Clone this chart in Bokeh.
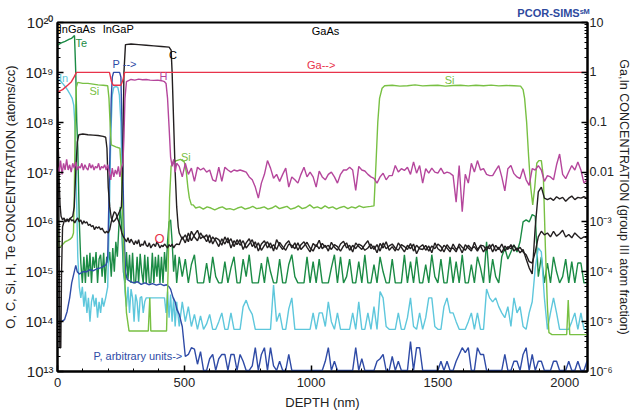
from bokeh.plotting import figure
from bokeh.models import Range1d, LogScale, LogAxis, Label, FixedTicker
from bokeh.embed import file_html
from bokeh.resources import INLINE

# ---------------- data ----------------
# common depth grid (nm) of the GaAs part of the profile
gaas_depth = list(range(480, 2089, 12))

# Te (atoms/cc)
te_front = [(0, 3.5e19), (15, 3.9e19), (30, 4.2e19), (45, 4.6e19), (55, 4.8e19), (62, 5.2e19), (67, 5.5e19),
            (72, 1e19), (76, 1e18), (80, 3e17), (86, 1e16), (92, 1.5e15), (98, 6e14),
            (104, 2e15), (110, 6e14), (116, 2.2e15), (122, 8e14), (128, 2.4e15), (134, 6e14), (140, 2e15),
            (146, 1.2e15), (152, 2.5e15), (158, 6e14), (164, 1.8e15), (170, 2.2e15), (176, 8e14), (182, 2.4e15),
            (188, 6e14), (194, 2e15), (200, 1.5e15), (206, 2.5e15), (212, 8e14), (218, 3e15), (224, 1e15),
            (230, 4e15), (236, 2e15), (242, 8e15), (248, 2e16), (254, 6e15), (260, 1e15), (266, 6e14),
            (272, 2.5e15), (278, 7e14), (284, 2.2e15), (290, 6e14), (296, 2.4e15), (302, 6e14), (308, 6e14),
            (314, 2e15), (320, 6e14), (326, 2.3e15), (332, 1e15), (338, 6e14), (344, 2.2e15), (350, 6e14),
            (356, 2e15), (362, 6e14), (368, 6e14), (374, 2.4e15), (380, 6e14), (386, 2e15), (392, 8e14),
            (398, 2.2e15), (404, 6e14), (410, 2e15), (416, 6e14), (422, 2.5e15), (428, 1e15), (434, 4e15),
            (440, 1e16), (446, 1.1e16), (452, 4e15), (458, 1e15), (464, 2.2e15), (470, 6e14)]
te_gaas_e14 = [20, 8, 18, 6, 14, 22, 6, 6, 6, 15,
               6, 20, 8, 6, 6, 16, 6, 12, 20, 6,
               6, 18, 8, 22, 6, 6, 6, 15, 6, 20,
               10, 6, 6, 18, 6, 6, 14, 22, 8, 6,
               6, 6, 20, 6, 16, 6, 18, 6, 6, 6,
               12, 22, 6, 20, 6, 8, 18, 6, 6, 16,
               6, 22, 6, 6, 14, 6, 20, 10, 6, 6,
               18, 6, 6, 6, 22, 6, 16, 6, 20, 6,
               6, 14, 6, 22, 8, 6, 18, 6, 6, 20,
               6, 16, 6, 22, 6, 6, 14, 6, 20, 12,
               6, 40, 6, 18, 8, 6, 20, 30, 18, 25,
               35, 25, 40, 100, 110, 100, 140, 130, 8, 20,
               6, 15, 6, 20, 10, 6, 8, 18, 6, 16,
               6, 15, 15, 6, 6]

# Si (atoms/cc)
si_profile = [(0, 1.6e16), (3, 6e15), (6, 3e15), (12, 3.2e15), (20, 3.5e15), (30, 4e15), (40, 4.2e15),
              (50, 4.5e15), (58, 5e15), (63, 6e15), (66, 3e16), (70, 1e18), (74, 5e18), (80, 6.3e18),
              (100, 6e18), (120, 6e18), (140, 5.8e18), (160, 5.6e18), (180, 5.5e18), (198, 5.4e18),
              (203, 3e18), (208, 8e17), (212, 3.5e17), (230, 3.2e17), (246, 3e17), (252, 1e17), (258, 1e16),
              (264, 1e15), (272, 1.5e14), (282, 6.5e13), (300, 6.5e13), (320, 6.5e13), (340, 6.5e13),
              (358, 6.5e13), (364, 3e14), (368, 6.5e13), (390, 6.5e13), (410, 6.5e13), (430, 6.5e13),
              (436, 1e15), (442, 3e16), (448, 1.3e17), (456, 1.6e17), (470, 1.7e17), (485, 1.8e17),
              (500, 1.6e17), (508, 1e17), (514, 5e16), (520, 3e16), (528, 2.2e16),
              (535, 2.2e16), (545, 1.9e16), (560, 2.0e16), (575, 1.8e16), (590, 2.0e16), (605, 1.9e16),
              (620, 1.75e16), (635, 1.9e16), (650, 2.0e16), (665, 1.8e16), (680, 1.85e16), (695, 1.75e16),
              (710, 1.9e16), (725, 2.0e16), (740, 1.8e16), (755, 1.9e16), (770, 2.05e16), (785, 1.85e16),
              (800, 1.9e16), (815, 2.0e16), (830, 1.8e16), (845, 1.9e16), (860, 2.1e16), (875, 1.85e16),
              (890, 1.95e16), (905, 2.05e16), (920, 1.8e16), (935, 1.9e16), (950, 2.1e16), (965, 1.85e16),
              (980, 1.95e16), (995, 2.2e16), (1010, 1.9e16), (1025, 2.0e16), (1040, 1.85e16), (1055, 2.1e16),
              (1070, 1.9e16), (1085, 2.0e16), (1100, 1.8e16), (1115, 1.95e16), (1130, 2.05e16),
              (1145, 1.85e16), (1160, 2.0e16), (1175, 1.9e16), (1190, 2.1e16), (1205, 1.95e16),
              (1220, 2.0e16), (1235, 2.05e16), (1248, 2.1e16), (1256, 1.5e17), (1263, 1e18), (1270, 3e18),
              (1280, 4.8e18), (1290, 5.4e18), (1320, 5.5e18), (1350, 5.3e18), (1380, 5.4e18), (1410, 5.6e18),
              (1440, 5.35e18), (1470, 5.45e18), (1500, 5.5e18), (1530, 5.3e18), (1560, 5.45e18),
              (1590, 5.5e18), (1620, 5.35e18), (1650, 5.5e18), (1680, 5.4e18), (1710, 5.55e18),
              (1740, 5.35e18), (1770, 5.45e18), (1800, 5.4e18), (1826, 5.3e18), (1836, 4.5e18),
              (1842, 3e18), (1850, 1e18), (1858, 2e17), (1866, 5e16), (1874, 2.2e16), (1882, 5e16),
              (1890, 1.5e17), (1898, 1.7e17), (1908, 1.7e17), (1916, 8e16), (1924, 3e15), (1932, 2e14),
              (1938, 6e13), (1950, 5.5e13), (1980, 5.5e13), (2008, 5.5e13), (2014, 2.7e14), (2020, 5.5e13),
              (2088, 5.5e13)]

# C (atoms/cc)
c_front = [(0, 1.5e18), (3, 5e17), (6, 1e16), (9, 3e13), (13, 3e13), (16, 1e15), (20, 8e15), (28, 1.1e16),
           (36, 1.05e16), (44, 1.1e16), (52, 1.2e16), (60, 1.3e16), (66, 2e16), (72, 1e17), (78, 4e17),
           (84, 5.6e17), (100, 5.8e17), (120, 5.6e17), (140, 5.5e17), (160, 5.4e17), (180, 5.2e17),
           (190, 5e17), (195, 3e17), (200, 5e16), (206, 2e16), (212, 1.2e16), (220, 1e16), (228, 1.1e16),
           (236, 1.3e16), (244, 1.6e16), (252, 2e16), (257, 1e17), (262, 1e19), (268, 3.6e19), (290, 3.7e19),
           (320, 3.6e19), (350, 3.5e19), (380, 3.4e19), (410, 3.3e19), (440, 3.2e19), (448, 2.8e19),
           (452, 1e19), (458, 1e18), (464, 1e17), (470, 2e16), (476, 8e15)]
c_gaas_e15 = [6, 4.5, 5.5, 4, 6.5, 5, 4.2, 6, 4.8, 5.5,
              3.8, 5, 4.2, 3.2, 4.6, 3.6, 4.8, 3, 4.2, 3.5,
              4.4, 2.8, 3.8, 4.6, 3.2, 4, 2.6, 3.6, 4.2, 3,
              3.8, 2.6, 4.4, 3.4, 2.8, 3.6, 4.2, 3, 3.8, 2.7,
              3.5, 4, 3.1, 2.5, 3.7, 3.2, 4.3, 2.9, 3.4, 2.6,
              3.9, 3.1, 2.7, 3.6, 4.1, 3, 3.4, 2.5, 3.8, 3.2,
              2.8, 3.5, 4.2, 2.9, 3.3, 2.4, 3.7, 3, 4, 2.7,
              3.2, 2.6, 3.8, 3.1, 2.5, 3.4, 2.9, 3.6, 2.3, 3.1,
              3.5, 2.7, 3.3, 2.4, 3.8, 2.9, 2.6, 3.4, 3, 2.5,
              3.6, 2.8, 3.2, 2.4, 3.5, 3, 2.6, 3.9, 2.8, 3.3,
              2.5, 3.2, 2.9, 3.6, 2.6, 3.1, 2.4, 3.3, 2.8, 3.5,
              2.6, 3, 2.4, 2.8, 1.8, 1.2, 0.9, 8, 40, 50,
              30, 28, 30, 27, 32, 29, 31, 26, 30, 33,
              28, 31, 30, 32, 30]

# O (atoms/cc)
o_front = [(0, 7e17), (3, 3e17), (6, 8e16), (10, 2.2e16), (14, 1.3e16), (20, 1.1e16), (26, 1.2e16), (32, 1e16),
           (38, 1.15e16), (44, 1e16), (50, 1.2e16), (56, 1.05e16), (62, 1.1e16), (68, 9.5e15), (74, 1.1e16),
           (80, 1.2e16), (86, 1e16), (92, 1.1e16), (98, 9e15), (104, 1.05e16), (110, 9.5e15), (116, 1e16),
           (122, 8.5e15), (128, 9e15), (134, 8e15), (140, 8.5e15), (146, 7e15), (152, 8e15), (158, 7.5e15),
           (164, 8e15), (170, 7e15), (176, 7.5e15), (182, 6.5e15), (188, 6e15), (194, 6.5e15), (200, 6e15),
           (206, 7e15), (212, 1e16), (218, 1.3e16), (224, 1.6e16), (230, 1.5e16), (236, 1.2e16), (242, 1e16),
           (248, 8e15), (254, 6e15), (260, 5e15), (266, 4.5e15), (272, 4e15), (278, 4.8e15), (284, 3.8e15),
           (290, 4.5e15), (296, 4e15), (302, 3.5e15), (308, 4.2e15), (314, 3.6e15), (320, 4.4e15),
           (326, 3.2e15), (332, 3.6e15), (338, 3.4e15), (344, 4.2e15), (350, 3.4e15), (356, 3.2e15),
           (362, 3.8e15), (368, 3e15), (374, 3.4e15), (380, 3.6e15), (386, 3.2e15), (392, 4e15),
           (398, 3.5e15), (404, 3e15), (410, 3.4e15), (416, 3.2e15), (422, 3.6e15), (428, 3.3e15),
           (434, 3e15), (440, 3.5e15), (446, 3.2e15), (452, 3.6e15), (458, 3e15), (464, 3.4e15), (470, 3.6e15)]
o_gaas_e15 = [3.5, 5, 3.8, 6, 4.2, 5.5, 6.8, 4.6, 5.2, 4,
              5.5, 3.6, 4.8, 4.4, 3.4, 5, 3.8, 4.6, 3.2, 4.4,
              3.4, 4.2, 3, 3.6, 4.4, 3, 3.8, 2.7, 3.4, 4,
              3, 3.5, 2.8, 3.9, 3.2, 2.7, 3.6, 3.4, 2.9, 3.8,
              2.8, 3.3, 3.9, 3, 2.6, 3.5, 2.9, 3.7, 3.1, 3.4,
              2.8, 3.5, 3.2, 2.6, 3.3, 3.8, 2.7, 3.4, 2.9, 3.6,
              3.3, 2.7, 3, 3.6, 2.8, 3.5, 2.6, 3.8, 2.9, 3.3,
              3.6, 3, 2.7, 3.5, 3.2, 2.8, 3.7, 2.6, 3.4, 2.9,
              2.8, 3.4, 2.6, 3.3, 2.9, 3.6, 3.2, 2.5, 3.5, 2.9,
              3, 2.5, 3.6, 3.1, 2.7, 3.4, 2.9, 3.2, 2.6, 3.4,
              3.3, 2.7, 3.5, 2.5, 3.4, 2.8, 3.6, 2.6, 3.2, 2.9,
              3.4, 2.7, 3.1, 2.5, 2.2, 1.6, 1.5, 2.5, 5, 6.5,
              5.5, 6, 5, 6.5, 5.2, 5.8, 6.8, 5, 5.6, 4.8,
              6, 5.2, 4.6, 5, 4.8]

# H (atoms/cc)
h_front = [(0, 1.3e17), (6, 1.0e17), (12, 1.7e17), (18, 9e16), (24, 1.5e17), (30, 1.1e17), (36, 1.8e17),
           (42, 1.1e17), (48, 1.4e17), (54, 1.0e17), (60, 1.5e17), (66, 1.2e17), (72, 1.6e17), (78, 1.1e17),
           (84, 1.3e17), (90, 1.2e17), (96, 1.5e17), (102, 1.1e17), (108, 1.4e17), (114, 1.2e17),
           (120, 1.1e17), (126, 1.5e17), (132, 1.2e17), (138, 1.4e17), (144, 1.1e17), (150, 1.3e17),
           (156, 1.2e17), (162, 1.5e17), (168, 1.1e17), (174, 1.3e17), (180, 1.2e17), (186, 1.4e17),
           (192, 1.1e17), (198, 1.4e17), (204, 1.0e17), (210, 7e16), (216, 1.2e17), (222, 8e16),
           (228, 1.1e17), (234, 9e16), (240, 1.3e17), (246, 8e16), (252, 1.2e17), (258, 1.5e17),
           (262, 5e17), (266, 3e18), (272, 6.5e18), (290, 7.2e18), (305, 7e18), (320, 7.3e18),
           (335, 7.1e18), (350, 7.2e18), (365, 7e18), (380, 6.9e18), (395, 7e18), (410, 6.8e18),
           (422, 6.5e18), (428, 6e18), (434, 3e18), (440, 8e17), (446, 2e17), (452, 1.3e17), (458, 1.8e17),
           (464, 1e17), (470, 1.5e17)]
h_gaas_e16 = [13, 8, 15, 9, 12, 6.5, 12.5, 11, 12, 10,
              11, 7, 6.5, 12.5, 6.5, 12.5, 11, 10, 11, 10.5,
              11, 10.5, 10, 8, 7, 5, 3, 6, 9, 17,
              12, 7.5, 9, 6.5, 9, 12, 5, 8, 7, 6,
              9, 12.5, 8, 10, 8, 5, 10.5, 8, 7, 9,
              10, 8, 6, 9, 11, 11, 12.5, 11, 4.3, 13,
              11, 10.5, 9, 8, 7.5, 6, 8, 9.5, 7, 8.5,
              8.5, 13.5, 10, 11.7, 10.8, 12.5, 9, 16, 9.5, 13.5,
              6, 11.7, 9.5, 12, 10, 9.5, 12, 9.3, 10, 9.5,
              8.5, 2.5, 13.5, 1.6, 9, 6, 15, 10, 17, 11,
              11.7, 9, 8.5, 8.5, 10.8, 13.5, 8, 4.2, 11.7, 13.5,
              9.3, 8, 7.4, 11.7, 7, 5.4, 11.7, 11, 13.5, 11,
              6.5, 8.5, 8, 7, 14, 23, 9, 7.4, 10, 13.5,
              11, 16, 11, 6, 7]

# P (arbitrary units, plotted on the atoms/cc scale)
p_front = [(0, 1e14), (15, 1e14), (28, 1.1e14), (38, 1.6e14), (48, 3e14), (56, 6e14), (64, 9e14),
           (72, 1.35e15), (78, 1e15), (86, 9e14), (100, 1e15), (114, 1e15), (128, 1.1e15), (142, 1.05e15),
           (156, 1.15e15), (170, 1.2e15), (184, 1.3e15), (192, 1.4e15), (198, 2e15), (205, 1e17),
           (212, 3e18), (216, 8e18), (221, 1e19), (245, 1e19), (250, 8e18), (254, 1e18), (258, 1e17),
           (262, 8e15), (268, 1e15), (275, 7e14), (285, 6.5e14), (300, 6e14), (315, 6.3e14), (330, 5.6e14),
           (345, 6e14), (360, 5.5e14), (375, 5.8e14), (390, 5.4e14), (405, 5.7e14), (420, 5.3e14),
           (430, 5.5e14), (440, 5e14), (446, 4.5e14), (456, 3e14), (464, 2.5e14), (470, 1.8e14)]
p_gaas_e13 = [14, 8, 2.0, 2.2, 3.0, 2.8, 1.4, 2.5, 1.05, 1.05,
              1.8, 2.2, 1.05, 1.8, 2.2, 2.2, 1.05, 2.2, 2.2, 1.05,
              2.2, 1.6, 1.05, 1.05, 1.3, 3.0, 1.05, 2.2, 3.0, 1.05,
              3.0, 1.3, 1.05, 1.6, 1.05, 1.05, 2.2, 1.05, 1.05, 1.05,
              1.05, 1.05, 1.05, 1.05, 1.05, 1.05, 1.05, 1.05, 1.6, 3.0,
              1.05, 1.6, 1.05, 1.05, 1.05, 1.05, 1.05, 1.05, 3.0, 1.05,
              1.8, 1.05, 1.05, 1.05, 1.05, 1.6, 1.8, 2.2, 1.05, 1.05,
              2.0, 1.05, 1.6, 1.05, 1.05, 1.05, 4.0, 1.05, 3.0, 3.0,
              1.05, 1.05, 1.05, 1.05, 1.05, 1.05, 1.6, 1.05, 1.6, 1.05,
              1.05, 1.6, 2.2, 3.0, 2.4, 3.0, 1.05, 1.05, 3.0, 2.2,
              2.2, 1.05, 1.05, 1.05, 1.05, 1.05, 1.05, 2.2, 1.05, 1.05,
              1.6, 1.6, 1.05, 2.2, 3.0, 1.05, 2.2, 1.05, 1.6, 1.6,
              1.05, 1.05, 1.05, 1.6, 1.6, 1.05, 1.05, 1.05, 1.6, 1.05,
              1.05, 1.6, 1.05, 1.05, 1.6]

# In (group III atom fraction)
in_front = [(0, 0.75), (10, 0.68), (20, 0.6), (30, 0.52), (40, 0.44), (50, 0.36), (58, 0.3), (64, 0.22),
            (68, 0.1), (72, 0.02), (76, 2e-3), (80, 2e-4), (86, 5e-5), (92, 3e-5), (98, 5e-5), (104, 2e-5),
            (110, 4e-5), (116, 1.5e-5), (122, 3e-5), (128, 1e-5), (134, 2.5e-5), (140, 3.5e-5), (146, 2e-5),
            (152, 3e-5), (158, 1.2e-5), (164, 2.5e-5), (170, 1.5e-5), (176, 3e-5), (182, 2e-5), (190, 3e-5),
            (198, 5e-5), (204, 1e-3), (210, 0.05), (216, 0.35), (222, 0.5), (230, 0.52), (238, 0.5),
            (244, 0.35), (250, 0.1), (255, 5e-3), (260, 2e-4), (266, 4e-5), (272, 2e-5), (278, 5e-5),
            (284, 1.5e-5), (290, 4.5e-5), (296, 3e-5), (302, 1e-5), (308, 3.5e-5), (314, 2.5e-5), (320, 1e-5),
            (326, 3e-5), (332, 3.2e-5), (338, 1.5e-5), (344, 2.5e-5), (350, 3e-5), (362, 3e-5), (374, 3e-5),
            (386, 3e-5), (398, 3e-5), (410, 3e-5), (422, 3e-5), (428, 1.5e-5), (434, 4e-5), (440, 1.2e-5),
            (446, 3.5e-5), (452, 1e-5), (458, 3e-5), (464, 8e-6), (470, 2.5e-5)]
in_gaas_e6 = [8, 25, 10, 20, 8, 14, 7, 13, 7, 9,
              14, 7, 7, 10, 15, 7, 7, 15, 7, 7,
              7, 20, 27, 18, 14, 7, 7, 7, 7, 7,
              7, 54, 10, 15, 7, 7, 18, 30, 7, 7,
              7, 7, 7, 7, 15, 7, 15, 15, 8, 25,
              10, 7, 15, 7, 7, 7, 7, 15, 7, 25,
              7, 7, 15, 7, 20, 7, 40, 30, 8, 7,
              7, 7, 15, 7, 7, 12, 30, 8, 7, 15,
              7, 12, 30, 30, 8, 7, 7, 20, 30, 15,
              15, 10, 7, 7, 7, 10, 15, 7, 15, 7,
              7, 45, 30, 25, 30, 20, 15, 12, 20, 8,
              30, 15, 20, 8, 7, 15, 25, 120, 300, 250,
              30, 7, 15, 30, 15, 7, 7, 7, 7, 10,
              15, 7, 15, 7, 7]

# Ga (group III atom fraction)
ga_profile = [(0, 0.4), (20, 0.45), (40, 0.55), (55, 0.65), (65, 0.8), (75, 1.0), (205, 1.0), (213, 0.65),
              (220, 0.55), (250, 0.55), (258, 0.7), (265, 1.0), (2090, 1.0)]

y_ticks_left = [1e13, 1e14, 1e15, 1e16, 1e17, 1e18, 1e19, 1e20]
y_labels_left = ["10¹³", "10¹⁴", "10¹⁵", "10¹⁶", "10¹⁷", "10¹⁸", "10¹⁹", "10²⁰"]
y_ticks_right = [1e-6, 1e-5, 1e-4, 1e-3, 1e-2, 1e-1, 1, 10]
y_labels_right = ["10⁻⁶", "10⁻⁵", "10⁻⁴", "10⁻³", "0.01", "0.1", "1", "10"]
x_ticks = [0, 500, 1000, 1500, 2000]

for name, arr in [("te", te_gaas_e14), ("c", c_gaas_e15), ("o", o_gaas_e15), ("h", h_gaas_e16),
                  ("p", p_gaas_e13), ("in", in_gaas_e6)]:
    assert len(arr) == len(gaas_depth), (name, len(arr), len(gaas_depth))


def series(front, grid_vals, scale):
    xs = [d for d, _ in front] + gaas_depth
    ys = [v for _, v in front] + [v * scale for v in grid_vals]
    return xs, ys


def pairs(pr):
    return [d for d, _ in pr], [v for _, v in pr]


FONT = "Liberation Sans"
C_TE, C_SI, C_BLK, C_H = "#1b8b45", "#78c043", "#231f20", "#b5469c"
C_P, C_IN, C_GA, C_TITLE = "#2f4ba6", "#5ec7dc", "#e8334a", "#2e4a9e"

X_MAX = 2090
p = figure(width=633, height=412,
           x_axis_type="linear", y_axis_type="log",
           x_range=Range1d(0, X_MAX), y_range=Range1d(1e13, 1e20),
           output_backend="svg", toolbar_location=None,
           min_border_left=50, min_border_right=36, min_border_top=15, min_border_bottom=38)
p.grid.visible = False
p.outline_line_color = "black"
p.outline_line_width = 2

# corner title "PCOR-SIMS(SM)"
p.title.text = "PCOR-SIMSˢᴹ"
p.title.align = "right"
p.title.text_color = C_TITLE
p.title.text_font = FONT
p.title.text_font_size = "11px"
p.title.text_font_style = "bold"
p.title.standoff = 8
p.title.offset = -2

p.extra_y_ranges = {"frac": Range1d(1e-6, 10)}
p.extra_y_scales = {"frac": LogScale()}

# draw curves
xs, ys = series(te_front, te_gaas_e14, 1e14)
p.line(xs, ys, line_color=C_TE, line_width=1.4)
xs, ys = series(in_front, in_gaas_e6, 1e-6)
p.line(xs, ys, line_color=C_IN, line_width=1.4, y_range_name="frac")
xs, ys = series(p_front, p_gaas_e13, 1e13)
p.line(xs, ys, line_color=C_P, line_width=1.4)
xs, ys = pairs(si_profile)
p.line(xs, ys, line_color=C_SI, line_width=1.4)
xs, ys = series(o_front, o_gaas_e15, 1e15)
p.line(xs, ys, line_color=C_BLK, line_width=1.4)
xs, ys = series(c_front, c_gaas_e15, 1e15)
p.line(xs, ys, line_color=C_BLK, line_width=1.4)
xs, ys = series(h_front, h_gaas_e16, 1e16)
p.line(xs, ys, line_color=C_H, line_width=1.4)
xs, ys = pairs(ga_profile)
p.line(xs, ys, line_color=C_GA, line_width=1.4, y_range_name="frac")

# axes
minor_left = [k * t for t in y_ticks_left[:-1] for k in range(2, 10)]
p.yaxis.ticker = FixedTicker(ticks=y_ticks_left, minor_ticks=minor_left)
p.yaxis.major_label_overrides = dict(zip(y_ticks_left, y_labels_left))
p.yaxis.axis_label = "O, C, Si, H, Te CONCENTRATION (atoms/cc)"

right = LogAxis(y_range_name="frac")
minor_right = [k * t for t in y_ticks_right[:-1] for k in range(2, 10)]
right.ticker = FixedTicker(ticks=y_ticks_right, minor_ticks=minor_right)
right.major_label_overrides = dict(zip(y_ticks_right, y_labels_right))
right.axis_label = "Ga,In CONCENTRATION (group III atom fraction)"
if "axis_label_orientation" in right.properties():
    right.axis_label_orientation = "vertical"
p.add_layout(right, "right")

p.xaxis.ticker = FixedTicker(ticks=x_ticks, minor_ticks=list(range(0, 2100, 100)))
p.xaxis.axis_label = "DEPTH (nm)"

for ax in [p.xaxis[0], p.yaxis[0], right]:
    ax.axis_line_width = 2
    ax.axis_line_color = "black"
    ax.major_tick_in = 6
    ax.major_tick_out = 0
    ax.minor_tick_in = 3
    ax.minor_tick_out = 0
    ax.major_tick_line_width = 1.5
    ax.major_label_text_font = FONT
    ax.major_label_text_color = "#222222"
    ax.axis_label_text_font = FONT
    ax.axis_label_text_font_style = "normal"
    ax.axis_label_text_font_size = "13px"
    ax.axis_label_text_color = "#222222"
    ax.axis_label_standoff = 4
    ax.major_label_standoff = 4
p.xaxis.major_label_standoff = 6
p.xaxis.axis_label_standoff = 5
right.major_label_standoff = 2
right.axis_label_standoff = 0
right.axis_label_text_font_size = "12.5px"
p.yaxis.major_label_text_font_size = "15px"
right.major_label_text_font_size = "12.5px"
p.xaxis.major_label_text_font_size = "13px"

# annotations inside the frame
def lab(x, y, text, color, size="11px", align="left", y_name="default"):
    p.add_layout(Label(x=x, y=y, text=text, text_color=color, text_font=FONT, text_font_size=size,
                       text_align=align, text_baseline="middle", y_range_name=y_name))

lab(5, 10 ** 19.86, "InGaAs", "black")
lab(178, 10 ** 19.86, "InGaP", "black")
lab(1057, 10 ** 19.83, "GaAs", "black", align="center")
lab(71, 10 ** 19.58, "Te", C_TE)
lab(6, 10 ** 18.88, "In", C_IN)
lab(126, 10 ** 18.62, "Si", C_SI)
lab(217, 10 ** 19.16, "P -->", C_P)
lab(440, 10 ** 19.34, "C", "black")
lab(402, 10 ** 18.92, "H", C_H)
lab(1040, 10 ** 19.15, "Ga-->", C_GA, align="center")
lab(1546, 10 ** 18.84, "Si", C_SI, align="center")
lab(487, 10 ** 17.31, "Si", C_SI)
lab(383, 10 ** 15.67, "O", C_GA, size="13px")
lab(142, 10 ** 13.32, "P, arbitrary units->", C_P)

open("out.html", "w").write(file_html(p, INLINE))
